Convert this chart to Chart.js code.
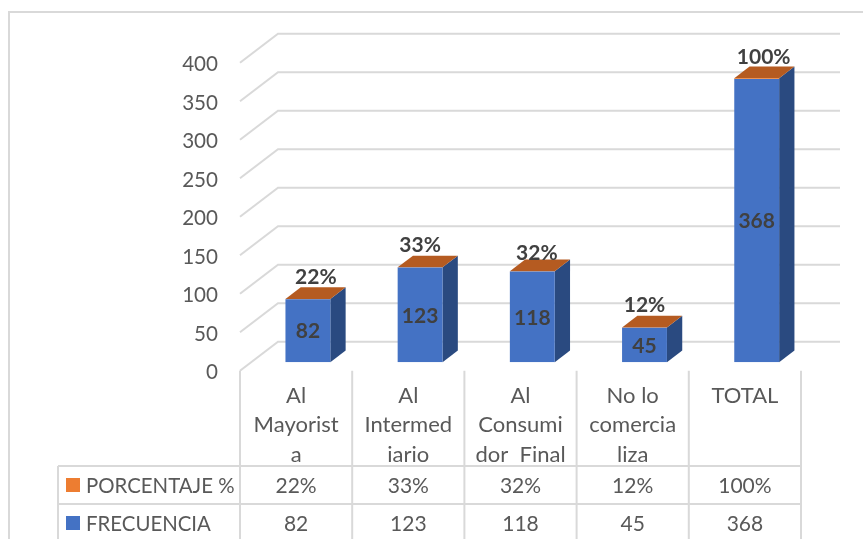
<!DOCTYPE html>
<html><head><meta charset="utf-8">
<style>html,body{margin:0;padding:0;background:#fff;overflow:hidden}
#w{position:relative;width:863px;height:539px}</style>
<script src="https://cdn.jsdelivr.net/npm/chart.js@4"></script></head>
<body><div id="w"><canvas id="c" width="863" height="539"></canvas></div>
<script>
const categories = [["Al","Mayorist","a"],["Al","Intermed","iario"],["Al","Consumi","dor  Final"],["No lo","comercia","liza"],["TOTAL"]];
const frecuencia = [82,123,118,45,368];
const porcentaje = [0.22,0.33,0.32,0.12,1.00];
const seriesNames = {pct:"PORCENTAJE %", freq:"FRECUENCIA"};
const yTicks = [0,50,100,150,200,250,300,350,400];

const FONT = "Lato, 'Open Sans', sans-serif";
const TXT = "#595959", DARK = "#404040", GRID = "#d9d9d9";
const BLUE = "#4472c4", BLUE_SIDE = "#2a4a80", ORANGE = "#ed7d31", ORANGE_TOP = "#b55b21";
const LIFT = -1.8;                       // scale sits lower so Lato digits centre on the gridline ends
const BAR_DX = 11.8, BAR_DY = -8.4+LIFT;
const WALL_DX = 38, WALL_DY = -29;
const SIDE_DX = 15.3, SIDE_DY = -11.7;
const WALL_RIGHT = 840;
const PCT_DX = [8, 0, 4.5, 0, 7];
const PCT_GAP = [10, 11, 7, 11, 10];
const pctText = v => Math.round(v*100) + "%";

const scene3d = {
  id:"scene3d",
  beforeDraw(chart){
    const {ctx, scales:{x,y}, chartArea:a} = chart;
    ctx.save();
    ctx.fillStyle="#fff"; ctx.fillRect(0,0,chart.width,chart.height);
    ctx.strokeStyle=GRID; ctx.lineWidth=2;
    ctx.beginPath(); ctx.moveTo(9,539); ctx.lineTo(9,12); ctx.lineTo(863,12); ctx.stroke();
    yTicks.forEach(t=>{
      const py=y.getPixelForValue(t)+LIFT;
      ctx.beginPath(); ctx.moveTo(a.left,py);
      ctx.lineTo(a.left+WALL_DX,py+WALL_DY); ctx.lineTo(WALL_RIGHT,py+WALL_DY); ctx.stroke();
    });
    const top=a.bottom+LIFT, r1=466, r2=504, bottom=chart.height, tl=58;
    ctx.beginPath();
    for(let i=0;i<=categories.length;i++){
      const vx=a.left+i*(a.right-a.left)/categories.length;
      ctx.moveTo(vx,top); ctx.lineTo(vx,bottom);
    }
    ctx.moveTo(tl,r1); ctx.lineTo(a.right,r1);
    ctx.moveTo(tl,r2); ctx.lineTo(a.right,r2);
    ctx.moveTo(tl,r1); ctx.lineTo(tl,bottom);
    ctx.stroke();
    ctx.fillStyle=ORANGE; ctx.fillRect(66,478,14,14);
    ctx.fillStyle=BLUE; ctx.fillRect(66,516,14,14);
    ctx.fillStyle=TXT; ctx.font="20.4px "+FONT; ctx.textBaseline="middle"; ctx.textAlign="left";
    ctx.fillText(seriesNames.pct,86,486);
    ctx.fillText(seriesNames.freq,86,524);
    ctx.font="21px "+FONT;
    ctx.textAlign="center";
    categories.forEach((c,i)=>{
      const cx=x.getPixelForValue(i);
      ctx.fillText(pctText(porcentaje[i]),cx,486);
      ctx.fillText(String(frecuencia[i]),cx,524);
    });
    ctx.restore();
  },
  beforeDatasetsDraw(chart){
    const ctx=chart.ctx;
    ctx.save();
    ctx.translate(BAR_DX,BAR_DY);
    const freq=chart.getDatasetMeta(0).data, pct=chart.getDatasetMeta(1).data;
    freq.forEach((b,i)=>{
      const l=b.x-b.width/2, r=b.x+b.width/2, t=pct[i].y, base=b.base;
      ctx.fillStyle=BLUE_SIDE;
      ctx.beginPath(); ctx.moveTo(r,t); ctx.lineTo(r+SIDE_DX,t+SIDE_DY);
      ctx.lineTo(r+SIDE_DX,base+SIDE_DY); ctx.lineTo(r,base); ctx.closePath(); ctx.fill();
      ctx.fillStyle=ORANGE_TOP;
      ctx.beginPath(); ctx.moveTo(l,t); ctx.lineTo(l+SIDE_DX,t+SIDE_DY);
      ctx.lineTo(r+SIDE_DX,t+SIDE_DY); ctx.lineTo(r,t); ctx.closePath(); ctx.fill();
    });
  },
  afterDatasetsDraw(chart){
    const ctx=chart.ctx;
    ctx.restore();
    const freq=chart.getDatasetMeta(0).data;
    ctx.save();
    ctx.fillStyle=DARK; ctx.font="bold 21px "+FONT;
    ctx.textAlign="center"; ctx.textBaseline="middle";
    freq.forEach((b,i)=>{
      const cx=b.x+BAR_DX;
      ctx.fillText(String(frecuencia[i]),cx,(b.y+b.base)/2+BAR_DY+1);
      ctx.fillText(pctText(porcentaje[i]),cx+PCT_DX[i],b.y+BAR_DY+SIDE_DY-PCT_GAP[i]);
    });
    ctx.restore();
  }
};

new Chart(document.getElementById("c"),{
  type:"bar",
  data:{labels:categories,datasets:[
    {label:seriesNames.freq,data:frecuencia,backgroundColor:BLUE,stack:"s"},
    {label:seriesNames.pct,data:porcentaje,backgroundColor:ORANGE,stack:"s"}
  ]},
  options:{
    responsive:false,animation:false,
    barPercentage:0.4,categoryPercentage:1,
    layout:{padding:{top:64.5,right:62,left:0,bottom:0}},
    plugins:{legend:{display:false},tooltip:{enabled:false},title:{display:false}},
    scales:{
      x:{stacked:true,grid:{display:false},border:{display:false},
        afterFit(s){s.height=166.5;},
        ticks:{autoSkip:false,maxRotation:0,minRotation:0,padding:1,color:TXT,
          font:{family:FONT,size:22,lineHeight:1.33}}},
      y:{stacked:true,min:0,max:400,grid:{display:false},border:{display:false},
        afterFit(s){s.width=240;},
        afterBuildTicks(s){s.ticks=yTicks.map(v=>({value:v}));},
        ticks:{padding:14,color:TXT,font:{family:FONT,size:20.6}}}
    }
  },
  plugins:[scene3d]
});
</script></body></html>
